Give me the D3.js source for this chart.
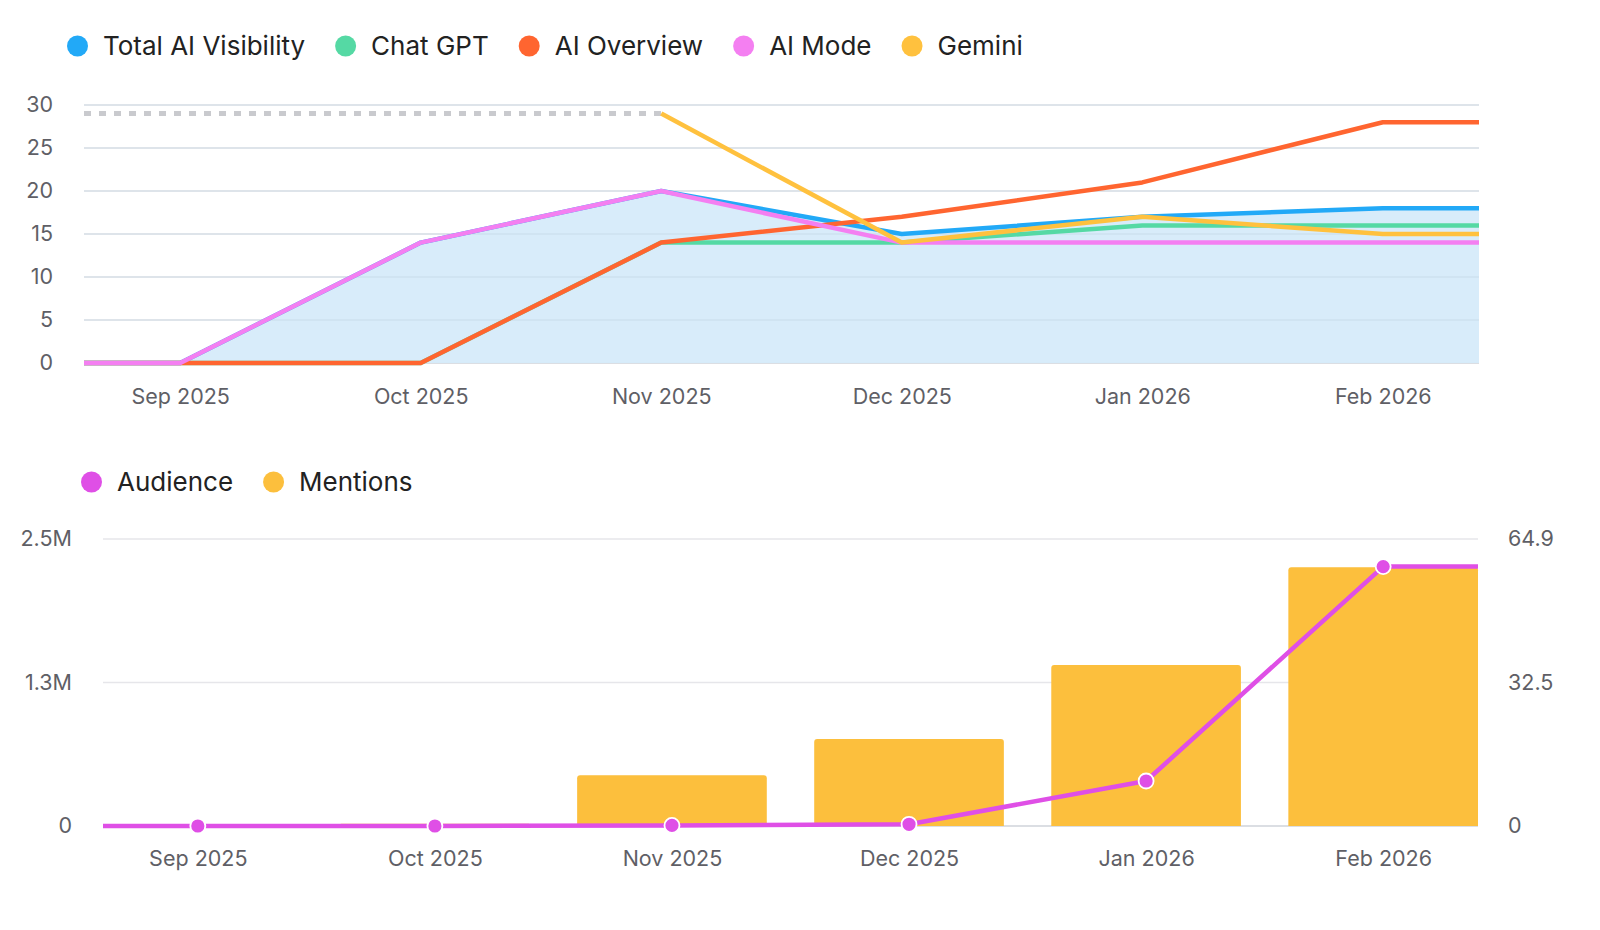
<!DOCTYPE html>
<html>
<head>
<meta charset="utf-8">
<script src="https://cdn.jsdelivr.net/npm/d3@7"></script>
<style>
  html, body { margin: 0; padding: 0; background: #fff; }
  svg { display: block; font-family: Inter, "Noto Sans", sans-serif; }
</style>
</head>
<body>
<svg id="chart" width="1600" height="930"></svg>
<script>
// months shared by both panels
const months = ['Sep 2025', 'Oct 2025', 'Nov 2025', 'Dec 2025', 'Jan 2026', 'Feb 2026'];

// top panel: AI visibility per source
const seriesNames = ['Total AI Visibility', 'Chat GPT', 'AI Overview', 'AI Mode', 'Gemini'];
const totalVisibility = [0, 14, 20, 15, 17, 18];
const chatGpt = [0, 0, 14, 14, 16, 16];
const aiOverview = [0, 0, 14, 17, 21, 28];
const aiMode = [0, 14, 20, 14, 14, 14];
const gemini = [null, null, 29, 14, 17, 15];
const visibilityTicks = [0, 5, 10, 15, 20, 25, 30];

// bottom panel: audience (left axis) and mentions (right axis)
const audience = [0, 0, 5000, 15000, 392000, 2260000];
const mentions = [0, 0.5, 11.5, 19.7, 36.4, 58.5];
const audienceTicks = [0, 1250000, 2500000];
const audienceTickLabels = ['0', '1.3M', '2.5M'];
const mentionTicks = [0, 32.45, 64.9];
const mentionTickLabels = ['0', '32.5', '64.9'];

const colors = {
  total: '#22A9F7',
  chat: '#55D9A4',
  overview: '#FF6530',
  mode: '#F47FF1',
  gemini: '#FFC13E',
  audience: '#DF4FE6',
  mentions: '#FCBF3D'
};

const svg = d3.select('#chart');
const grid = '#E6E6EA';
const tickColor = '#5f5f66';

// ---------- legend helper ----------
function legend(items, x0, y, gap) {
  let x = x0;
  items.forEach(it => {
    svg.append('circle').attr('cx', x + 10.5).attr('cy', y).attr('r', 10.5).attr('fill', it.color);
    const t = svg.append('text')
      .attr('x', x + 36).attr('y', y).attr('dy', '0.35em')
      .attr('fill', '#222').attr('font-size', '26px')
      .text(it.name);
    x += 36 + t.node().getComputedTextLength() + gap;
  });
}

function styleTicks(g) {
  g.select('.domain').remove();
  g.selectAll('text').attr('fill', tickColor).attr('font-size', '21.5px').attr('font-family', 'Inter, sans-serif');
}

// ---------- top panel ----------
const topBox = { left: 84, right: 1479, top: 105, bottom: 363 };

legend([
  { name: seriesNames[0], color: colors.total },
  { name: seriesNames[1], color: colors.chat },
  { name: seriesNames[2], color: colors.overview },
  { name: seriesNames[3], color: colors.mode },
  { name: seriesNames[4], color: colors.gemini }
], 67, 46, 30);

const x1 = d3.scalePoint().domain(months).range([topBox.left, topBox.right]).padding(0.4);
const y1 = d3.scaleLinear().domain([0, 30]).range([topBox.bottom, topBox.top]);

// grid
svg.append('g').selectAll('line').data(visibilityTicks).enter().append('line')
  .attr('x1', topBox.left).attr('x2', topBox.right)
  .attr('y1', d => y1(d)).attr('y2', d => y1(d))
  .attr('stroke', d => d === 0 ? '#cfd3da' : grid).attr('stroke-width', 1.5);

// y axis labels
svg.append('g').attr('transform', `translate(${topBox.left},0)`)
  .call(d3.axisLeft(y1).tickValues(visibilityTicks).tickSize(0).tickPadding(31))
  .call(styleTicks);

// x axis labels
svg.append('g').attr('transform', `translate(0,${topBox.bottom})`)
  .call(d3.axisBottom(x1).tickSize(0).tickPadding(26))
  .call(styleTicks);

// build points including flat extensions to the plot edges
function extended(values) {
  const pts = [];
  let first = values.findIndex(v => v != null);
  let last = values.length - 1;
  while (values[last] == null) last--;
  if (first === 0) pts.push([topBox.left, values[0]]);
  months.forEach((m, i) => { if (values[i] != null) pts.push([x1(m), values[i]]); });
  pts.push([topBox.right, values[last]]);
  return pts;
}

const line1 = d3.line().x(d => d[0]).y(d => y1(d[1]));
const area1 = d3.area().x(d => d[0]).y0(y1(0)).y1(d => y1(d[1]));

svg.append('path').datum(extended(totalVisibility))
  .attr('d', area1).attr('fill', '#D6EBFA').attr('fill-opacity', 0.95);

// redraw gridlines faintly over area
svg.append('g').selectAll('line').data(visibilityTicks.filter(d => d > 0)).enter().append('line')
  .attr('x1', topBox.left).attr('x2', topBox.right)
  .attr('y1', d => y1(d)).attr('y2', d => y1(d))
  .attr('stroke', '#c4d4e2').attr('stroke-opacity', 0.45).attr('stroke-width', 1.5);

// gemini dotted placeholder before its first value
const gFirst = gemini.findIndex(v => v != null);
svg.append('path')
  .datum([[topBox.left, gemini[gFirst]], [x1(months[gFirst]), gemini[gFirst]]])
  .attr('d', line1).attr('fill', 'none')
  .attr('stroke', '#C9CACE').attr('stroke-width', 5).attr('stroke-dasharray', '7 8');

[
  [totalVisibility, colors.total],
  [chatGpt, colors.chat],
  [aiOverview, colors.overview],
  [aiMode, colors.mode],
  [gemini, colors.gemini]
].forEach(([vals, c]) => {
  svg.append('path').datum(extended(vals))
    .attr('d', line1).attr('fill', 'none')
    .attr('stroke', c).attr('stroke-width', 4.5)
    .attr('stroke-linejoin', 'round');
});

// ---------- bottom panel ----------
const botBox = { left: 103, right: 1478, top: 539, bottom: 826 };

legend([
  { name: 'Audience', color: colors.audience },
  { name: 'Mentions', color: colors.mentions }
], 81, 482, 30);

const x2 = d3.scalePoint().domain(months).range([botBox.left, botBox.right]).padding(0.4);
const yL = d3.scaleLinear().domain([0, 2500000]).range([botBox.bottom, botBox.top]);
const yR = d3.scaleLinear().domain([0, 64.9]).range([botBox.bottom, botBox.top]);

svg.append('g').selectAll('line').data(audienceTicks).enter().append('line')
  .attr('x1', botBox.left).attr('x2', botBox.right)
  .attr('y1', d => yL(d)).attr('y2', d => yL(d))
  .attr('stroke', d => d === 0 ? '#cfd3da' : grid).attr('stroke-width', 1.5);

svg.append('g').attr('transform', `translate(${botBox.left},0)`)
  .call(d3.axisLeft(yL).tickValues(audienceTicks).tickFormat((d, i) => audienceTickLabels[i]).tickSize(0).tickPadding(31))
  .call(styleTicks);

svg.append('g').attr('transform', `translate(${botBox.right},0)`)
  .call(d3.axisRight(yR).tickValues(mentionTicks).tickFormat((d, i) => mentionTickLabels[i]).tickSize(0).tickPadding(30))
  .call(styleTicks);

svg.append('g').attr('transform', `translate(0,${botBox.bottom})`)
  .call(d3.axisBottom(x2).tickSize(0).tickPadding(25))
  .call(styleTicks);

// bars with slightly rounded tops
const barW = x2.step() * 0.8;
function barPath(cx, v) {
  const x0 = cx - barW / 2, x1b = cx + barW / 2;
  const yt = yR(v), yb = yR(0);
  const r = Math.min(3, (yb - yt) / 2);
  return `M${x0},${yb}V${yt + r}Q${x0},${yt} ${x0 + r},${yt}H${x1b - r}Q${x1b},${yt} ${x1b},${yt + r}V${yb}Z`;
}
svg.append('g').selectAll('path').data(mentions).enter().append('path')
  .attr('d', (d, i) => barPath(x2(months[i]), d))
  .attr('fill', colors.mentions);

// audience line, flat to both edges
const audPts = [[botBox.left, audience[0]]]
  .concat(months.map((m, i) => [x2(m), audience[i]]))
  .concat([[botBox.right, audience[audience.length - 1]]]);
svg.append('path').datum(audPts)
  .attr('d', d3.line().x(d => d[0]).y(d => yL(d[1])))
  .attr('fill', 'none').attr('stroke', colors.audience).attr('stroke-width', 4.5)
  .attr('stroke-linejoin', 'round');

svg.append('g').selectAll('circle').data(audience).enter().append('circle')
  .attr('cx', (d, i) => x2(months[i])).attr('cy', d => yL(d))
  .attr('r', 7.5).attr('fill', colors.audience)
  .attr('stroke', '#fff').attr('stroke-width', 1.8);
</script>
</body>
</html>
